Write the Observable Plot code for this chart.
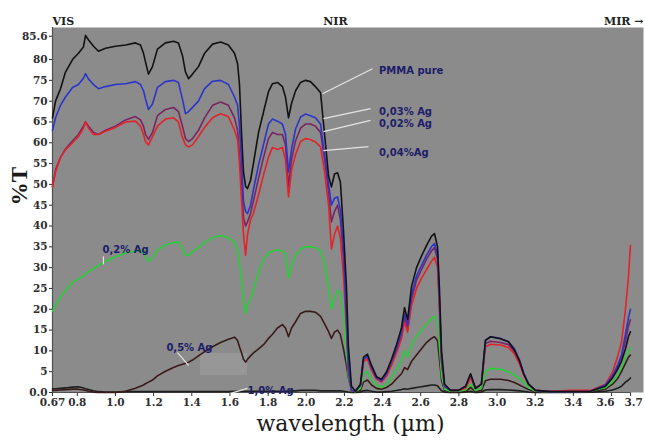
<!DOCTYPE html>
<html>
<head>
<meta charset="utf-8">
<script src="https://cdn.jsdelivr.net/npm/d3@7"></script>
<script src="https://cdn.jsdelivr.net/npm/@observablehq/plot@0.6"></script>
<style>
  html, body { margin: 0; padding: 0; background: #ffffff; }
</style>
</head>
<body>
<div id="chart"></div>
<script>
// wavelength in µm
const wavelength = [0.670,0.686,0.712,0.738,0.775,0.806,0.832,0.843,0.859,0.885,
  0.911,0.948,1.000,1.053,1.105,1.131,1.147,1.157,1.173,1.194,
  1.220,1.262,1.304,1.330,1.351,1.367,1.383,1.404,1.435,1.467,
  1.509,1.551,1.592,1.624,1.640,1.650,1.661,1.671,1.682,1.692,
  1.708,1.723,1.750,1.776,1.802,1.823,1.849,1.875,1.891,1.907,
  1.923,1.944,1.970,1.996,2.022,2.048,2.075,2.096,2.117,2.132,
  2.148,2.164,2.179,2.195,2.211,2.221,2.237,2.258,2.284,2.300,
  2.321,2.342,2.368,2.394,2.421,2.447,2.473,2.499,2.515,2.531,
  2.552,2.578,2.604,2.630,2.656,2.672,2.688,2.698,2.709,2.725,
  2.756,2.798,2.835,2.861,2.887,2.918,2.939,2.966,3.018,3.060,
  3.091,3.118,3.139,3.165,3.201,3.280,3.385,3.490,3.568,3.605,
  3.631,3.652,3.673,3.689,3.699];

// %T per sample
const pmmaPure = [66,70,73,77,80,81.5,83,85.8,84.7,83.2,
  82,82.7,83.2,83.5,84,83.5,81.5,79.5,76.5,78.3,
  82.5,84,84.4,84,81,77,75.4,76.5,78.3,81.5,
  83.7,84.2,83.5,81.5,79,74,62,53,49.5,49,
  51,55,62.5,67.4,72.3,74.2,74.5,73.5,71,66,
  69.5,72.5,74.5,75,74.7,73.5,72,62,52,49.4,
  52.5,52.8,50.5,39,25,11,1.5,0.3,2,8.5,
  9.2,6.5,3.8,3.2,5,8,11.5,15.5,20.4,17.5,
  25.5,30,32.8,35.3,37.5,38.2,35,25,10,2,
  0.5,0.5,1.5,4.5,1,2,12.5,13.4,12.9,12.2,
  10.2,7.5,4.5,2,0.5,0.2,0.2,0.3,1.5,3.5,
  5.5,7.5,10.5,13.5,14.6];

const ag003 = [63,66,69,71,73.3,74,75.5,76.6,75.3,74,
  73,73.5,74,74.2,74.7,74,72.5,70.6,68,69.3,
  73.3,74.7,75,74.5,70.5,67,67.5,68.5,70,73,
  74.8,75,74,71,69,64,55,46,43.5,43,
  45,48.7,54.7,59.6,64.5,65.7,65.2,64.5,62,53,
  58.5,63.3,66.2,66.9,66.5,66,64.5,57,50,45,
  46.7,47,43.8,34,17,5.5,0.5,0.3,1.8,8,
  8.8,6,3.5,2.8,4.5,7.5,10.5,14.5,19,16,
  23.5,28,30.5,33,35,35.8,33,22,8,1.5,
  0.5,0.5,1.5,4.4,1,2,12.5,13.4,13,12.2,
  10.5,7.8,4.8,2,0.5,0.2,0.2,0.3,1.8,4,
  6.5,9,14,18,20];

const ag002 = [49.5,53.5,56.5,58.5,60.5,62,64,65,64,62.5,
  62,63,64,65.5,66.3,65.5,64,62,60.8,62.5,
  66.5,68,68.5,67.5,64,61,60.3,61,63,66,
  69,69.8,69,66,63,57,50,42,40,41,
  43,46,51.5,56.5,61,62.5,62,62,59.5,49.5,
  56,60.5,63.5,64.5,64.5,64,62.5,56,48,41,
  43.5,45,41.5,32,17,5.5,0.5,0.3,1.8,7.5,
  8.2,5.5,3.3,2.6,4.2,7,10,13.5,18,15,
  22.5,27,29.5,32,34,34.8,32,21,7.5,1.5,
  0.5,0.5,1.2,3.8,1,2,11.8,12.3,12,11.5,
  9.8,7.2,4.5,2,0.5,0.2,0.2,0.3,1.8,4,
  6,8.5,12.5,16,17.5];

const ag004 = [49.4,53,56.5,58.3,60,61.5,63.5,65,63.5,62,
  62,62.8,63.7,65,65.2,64,62,60.3,59.5,61.5,
  64,65.7,66,65,61.3,59.5,59,59.5,61.5,63.7,
  66,67,66.3,63,60.8,55,46,38,33,38,
  41.5,43,47.5,52.3,56.5,58.9,58.4,58.9,56,47,
  53.5,57.2,60.3,61,60.8,60.2,59,53,45,34.5,
  38,40,37,28,15,5,0.5,0.3,1.8,7.5,
  8,5.5,3.2,2.5,4,6.5,9.5,13,17,14.5,
  21,25,27.5,29.5,31.5,32.5,30,20,7,1.5,
  0.5,0.5,1,3.5,1,2,11,11.6,11.4,10.8,
  9.3,6.8,4.3,2,0.5,0.3,0.5,0.5,2,4.9,
  8.5,12,20,28,35.3];

const ag02 = [19.5,21,23,24.5,26.5,27.3,28,28.5,29,29.8,
  30.5,31.5,32.6,33.5,34,34.2,33.5,32.5,31.5,32.4,
  34.2,35.5,36,36.2,34.5,33,33,33.8,34.8,36,
  37.2,37.7,37.2,36,34,31,27,22,19,21,
  22.5,24.5,29,32,33.5,34,34.3,34,33.3,27.5,
  30.5,33,34.5,35,35,34.8,34,31,25,20,
  22.5,24.5,24,19,9,4,0.5,0.2,1,4.5,
  5,3,1.8,1.2,2,3.5,5.5,7.5,10,8.5,
  11.5,13.5,15,16.5,17.7,18.3,17,11,4,0.8,
  0.3,0.3,0.6,2,0.5,1,5,5.8,5.6,5,
  4.2,3.3,2.5,1.2,0.3,0.2,0.2,0.3,1.2,2.5,
  4,6,8.5,10,10.5];

const ag05 = [0.5,0.5,0.6,0.7,0.8,0.8,0.6,0.5,0.3,0.1,
  0,0,0,0.3,1,1.5,1.8,2.1,2.5,3,
  4,5.1,6,6.5,6.8,7,7.3,7.8,8.8,9.8,
  11,12,12.8,13.3,12.5,11,9.5,8,7.3,8,
  8.8,9.5,10.5,11.5,13,14,15.5,16.3,15.5,13.4,
  15.5,17,19,19.5,19.5,19.3,18.3,16.5,14.6,13,
  14.5,15,13.9,10.5,6.5,3.5,0.5,0.1,0.5,2.5,
  3,1.8,1,0.8,1.2,2,3.3,4.5,6,5.5,
  7.5,9,10.5,12,13,13.4,12.5,8,3,0.5,
  0.2,0.2,0.3,1.2,0.3,0.5,2.8,3.2,3.2,2.9,
  2.4,1.8,1.3,0.7,0.2,0.1,0.1,0.2,0.8,2,
  3.3,5,7,8.5,9];

const ag10 = [0.9,0.9,1,1.1,1.3,1.4,1.1,0.9,0.7,0.4,
  0.2,0.1,0.1,0.2,0.2,0.2,0.2,0.2,0.2,0.2,
  0.2,0.2,0.2,0.2,0.2,0.2,0.2,0.2,0.2,0.2,
  0.2,0.2,0.2,0.3,0.3,0.3,0.3,0.3,0.3,0.3,
  0.3,0.3,0.3,0.3,0.3,0.3,0.3,0.3,0.3,0.3,
  0.4,0.4,0.5,0.5,0.5,0.5,0.4,0.4,0.4,0.4,
  0.4,0.4,0.4,0.3,0.2,0.1,0,0,0.1,0.4,
  0.5,0.3,0.1,0.1,0.2,0.3,0.5,0.7,0.9,0.8,
  1,1.2,1.4,1.6,1.8,1.8,1.6,1,0.4,0.1,
  0,0,0.1,0.3,0,0.1,0.6,0.7,0.7,0.6,
  0.5,0.4,0.3,0.1,0,0,0,0.1,0.3,0.6,
  1,1.5,2.5,3,3.5];

const seriesNames = ["PMMA pure", "0,03% Ag", "0,02% Ag", "0,04%Ag", "0,2% Ag", "0,5% Ag", "1,0% Ag"];
const xTicks = [0.67, 0.8, 1.0, 1.2, 1.4, 1.6, 1.8, 2.0, 2.2, 2.4, 2.6, 2.8, 3.0, 3.2, 3.4, 3.6, 3.7];
const yTicks = [0, 5, 10, 15, 20, 25, 30, 35, 40, 45, 50, 55, 60, 65, 70, 75, 80, 85.6];
const regionLabels = ["VIS", "NIR", "MIR →"];

// build
const seriesValues = [pmmaPure, ag003, ag002, ag004, ag02, ag05, ag10];
const seriesColors = ["#121212", "#2b36c9", "#7b2462", "#e3222a", "#25cf35", "#3a1a1a", "#1e1e1e"];
const drawOrder = [6, 5, 4, 2, 3, 1, 0];

const lineMarks = drawOrder.map(k => Plot.line(
  wavelength.map((w, i) => ({w, t: seriesValues[k][i]})),
  {x: "w", y: "t", stroke: seriesColors[k], strokeWidth: 1.6}
));

const fmtX = d => d === 0.67 ? "0.67" : d.toFixed(1);
const tickFont = {fontFamily: "DejaVu Serif", fontWeight: "bold", fontSize: 10.5, fill: "#2e2e2e"};
const xMain = xTicks.slice(0, xTicks.length - 2);
const xLast = xTicks.slice(xTicks.length - 2);

// annotation placement (data units)
const ann = [
  {name: seriesNames[0], tx: 2.381, ty: 77.4, lx1: 2.347, ly1: 77.8, lx2: 2.085, ly2: 71.8},
  {name: seriesNames[1], tx: 2.381, ty: 67.4, lx1: 2.337, ly1: 68.2, lx2: 2.090, ly2: 65.8},
  {name: seriesNames[2], tx: 2.381, ty: 64.5, lx1: 2.337, ly1: 65.4, lx2: 2.090, ly2: 62.7},
  {name: seriesNames[3], tx: 2.381, ty: 57.7, lx1: 2.326, ly1: 59.1, lx2: 2.090, ly2: 58.1},
  {name: seriesNames[4], tx: 0.932, ty: 34.4, lx1: 0.937, ly1: 32.7, lx2: 0.937, ly2: 30.8},
  {name: seriesNames[5], tx: 1.267, ty: 10.8, lx1: 1.325, ly1: 9.6, lx2: 1.383, ly2: 6.5},
  {name: seriesNames[6], tx: 1.692, ty: 0.5, lx1: 1.603, ly1: -0.2, lx2: 1.692, ly2: 1.0}
];

const chart = Plot.plot({
  width: 645,
  height: 441,
  marginLeft: 52,
  marginRight: 2,
  marginTop: 27,
  marginBottom: 49,
  style: {background: "#ffffff", color: "#2e2e2e", fontFamily: "DejaVu Serif", fontSize: "10.5px", fontWeight: "bold"},
  x: {domain: [0.67, 3.7675], ticks: xTicks, tickFormat: () => "", tickSize: 4, tickPadding: 2, label: null},
  y: {domain: [0, 87.7], ticks: yTicks, tickFormat: d => d === 0 ? "0.0" : (d === 85.6 ? "85.6" : String(d)), tickSize: 3, tickPadding: 2, label: null},
  marks: [
    Plot.frame({fill: "#8b8b8b", stroke: "none"}),
    Plot.rect([0], {x1: 1.446, x2: 1.692, y1: 4.1, y2: 9.4, fill: "#979797"}),
    Plot.ruleY([0], {x1: 0.67, x2: 3.7, stroke: "#505050", strokeWidth: 1.2}),
    Plot.ruleX([0.67], {stroke: "#505050", strokeWidth: 1.2}),
    ...lineMarks,
    Plot.link(ann, {x1: "lx1", y1: "ly1", x2: "lx2", y2: "ly2", stroke: "#e4e4e4", strokeWidth: 1.2}),
    Plot.text(ann, {x: "tx", y: "ty", text: "name", textAnchor: "start", fill: "#1d1d6a",
      fontFamily: "DejaVu Sans", fontWeight: "bold", fontSize: 10}),
    // x tick labels (on the x scale)
    Plot.text(xMain, {x: d => d, text: fmtX, frameAnchor: "bottom", dy: 13.5, ...tickFont}),
    Plot.text([xLast[0]], {x: d => d, text: fmtX, frameAnchor: "bottom", dy: 13.5, dx: -6, ...tickFont}),
    Plot.text([xLast[1]], {x: d => d, text: fmtX, frameAnchor: "bottom", dy: 13.5, dx: 3, ...tickFont}),
    Plot.text([regionLabels[0]], {x: 0.67, frameAnchor: "top", dy: -10, textAnchor: "start", text: d => d,
      fontFamily: "DejaVu Serif", fontWeight: "bold", fontSize: 11, fill: "#222"}),
    Plot.text([regionLabels[1]], {x: 2.153, frameAnchor: "top", dy: -10, text: d => d,
      fontFamily: "DejaVu Serif", fontWeight: "bold", fontSize: 11, fill: "#222"}),
    Plot.text([regionLabels[2]], {x: 3.7675, frameAnchor: "top", dy: -10, textAnchor: "end", text: d => d,
      fontFamily: "DejaVu Serif", fontWeight: "bold", fontSize: 11, fill: "#222"}),
    Plot.text(["%T"], {y: 45, frameAnchor: "left", dx: -33, rotate: -90, text: d => d,
      fontFamily: "Liberation Serif", fontWeight: "bold", fontSize: 23, fill: "#1a1a1a"}),
    Plot.text(["wavelength (µm)"], {x: 2.232, frameAnchor: "bottom", dy: 38, text: d => d,
      fontFamily: "DejaVu Serif", fontWeight: "normal", fontSize: 22, fill: "#1a1a1a"})
  ]
});
document.getElementById("chart").appendChild(chart);
</script>
</body>
</html>
